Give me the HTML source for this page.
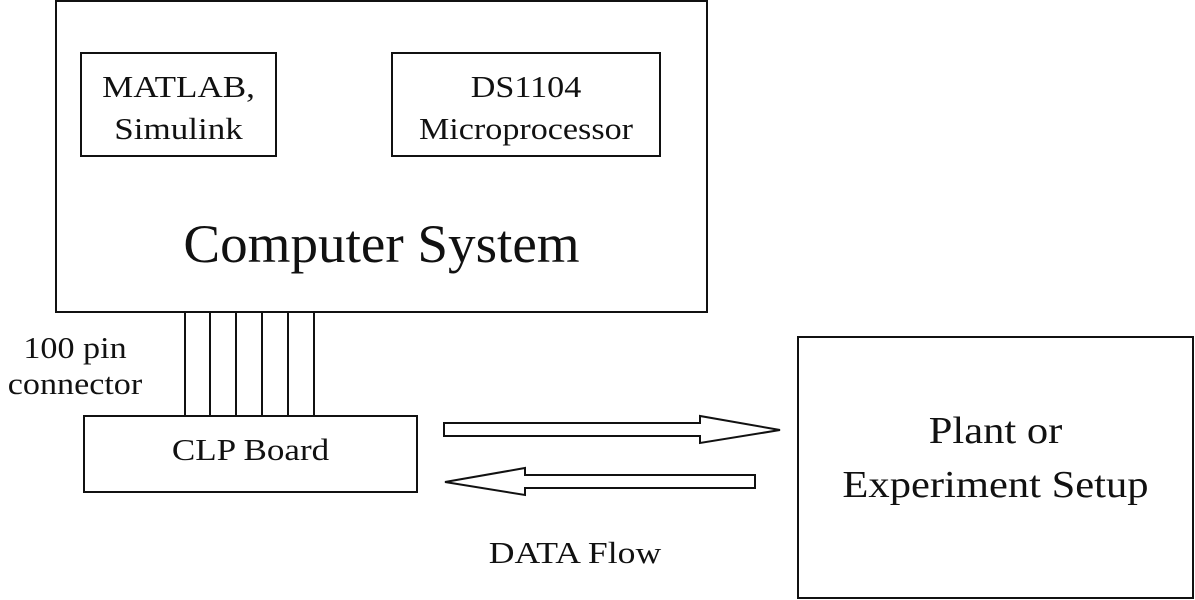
<!DOCTYPE html>
<html><head><style>
body{margin:0;width:1195px;height:600px;background:#fff;position:relative;overflow:hidden;font-family:"Liberation Serif",serif;color:#111}
.b{position:absolute;border:2px solid #111;box-sizing:border-box}
.t{position:absolute;text-align:center;white-space:nowrap}
</style></head><body>
<div class="b" style="left:55px;top:0px;width:653px;height:313px"></div>
<div class="b" style="left:80px;top:52px;width:197px;height:105px"></div>
<div class="b" style="left:391px;top:52px;width:270px;height:105px"></div>
<div class="t" style="left:80px;width:197px;top:66px;font-size:31px;line-height:42px;transform:scaleX(1.13)">MATLAB,<br>Simulink</div>
<div class="t" style="left:391px;width:270px;top:66px;font-size:31px;line-height:42px;transform:scaleX(1.1)">DS1104<br>Microprocessor</div>
<div class="t" style="left:55px;width:653px;top:212px;font-size:54px;line-height:64px;transform:scaleX(1.02)">Computer System</div>
<div class="b" style="left:83px;top:415px;width:335px;height:78px"></div>
<div class="t" style="left:83px;width:335px;top:430px;font-size:31px;line-height:40px;transform:scaleX(1.13)">CLP Board</div>
<div class="t" style="left:0px;width:150px;top:330px;font-size:31px;line-height:36px;transform:scaleX(1.1)">100 pin<br>connector</div>
<div class="b" style="left:797px;top:336px;width:397px;height:263px"></div>
<div class="t" style="left:797px;width:397px;top:404px;font-size:38px;line-height:54px;transform:scaleX(1.12)">Plant or<br>Experiment Setup</div>
<div class="t" style="left:470px;width:210px;top:533px;font-size:31px;line-height:40px;transform:scaleX(1.15)">DATA Flow</div>
<svg width="1195" height="600" style="position:absolute;left:0;top:0">
<g stroke="#111" stroke-width="2" fill="none">
<line x1="185" y1="312" x2="185" y2="415"/><line x1="210" y1="312" x2="210" y2="415"/>
<line x1="236" y1="312" x2="236" y2="415"/><line x1="262" y1="312" x2="262" y2="415"/>
<line x1="288" y1="312" x2="288" y2="415"/><line x1="314" y1="312" x2="314" y2="415"/>
<polygon points="444,423 700,423 700,416 780,430 700,443 700,436 444,436"/>
<polygon points="755,475 525,475 525,468 445,482 525,495 525,488 755,488"/>
</g></svg>
</body></html>
